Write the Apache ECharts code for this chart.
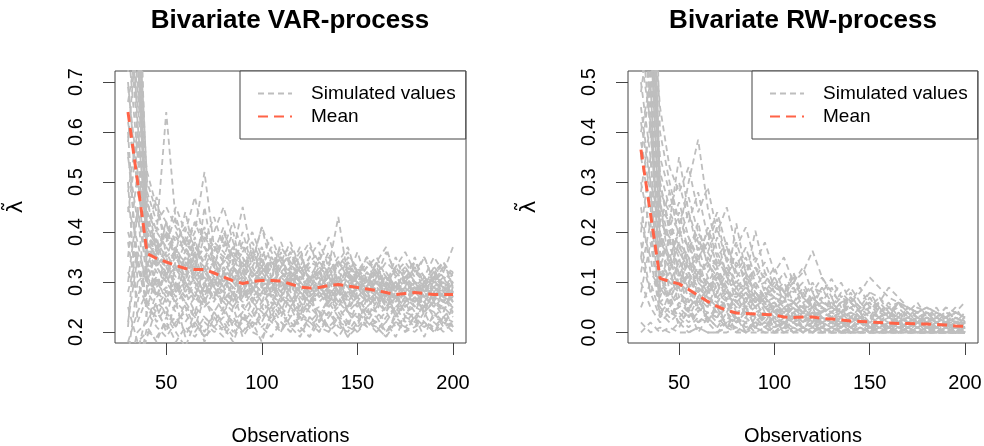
<!DOCTYPE html>
<html>
<head>
<meta charset="utf-8">
<script src="https://cdn.jsdelivr.net/npm/echarts@6/dist/echarts.min.js"></script>
<style>
  html, body { margin: 0; padding: 0; background: #fff; }
  #container { width: 984px; height: 446px; }
</style>
</head>
<body>
<div id="container"></div>
<script>
// observation grid (x) shared by both panels
var obs = [30, 35, 40, 45, 50, 55, 60, 65, 70, 75, 80, 85, 90, 95, 100, 105, 110, 115, 120, 125,
  130, 135, 140, 145, 150, 155, 160, 165, 170, 175, 180, 185, 190, 195, 200];

var xTicks = [50, 100, 150, 200];
var varYTicks = [0.2, 0.3, 0.4, 0.5, 0.6, 0.7];
var rwYTicks = [0.0, 0.1, 0.2, 0.3, 0.4, 0.5];

// mean of lambda tilde, VAR-process
var varMean = [0.640, 0.500, 0.357, 0.347, 0.340, 0.333, 0.327, 0.325, 0.325, 0.318,
  0.310, 0.302, 0.297, 0.301, 0.303, 0.303, 0.302, 0.296, 0.290, 0.288,
  0.289, 0.293, 0.295, 0.292, 0.289, 0.286, 0.283, 0.279, 0.275, 0.277,
  0.279, 0.277, 0.275, 0.275, 0.275];

// mean of lambda tilde, RW-process
var rwMean = [0.365, 0.237, 0.108, 0.102, 0.097, 0.086, 0.074, 0.062, 0.052, 0.044,
  0.039, 0.038, 0.037, 0.036, 0.035, 0.031, 0.030, 0.031, 0.031, 0.028,
  0.027, 0.025, 0.023, 0.022, 0.021, 0.020, 0.019, 0.018, 0.018, 0.017,
  0.017, 0.016, 0.015, 0.013, 0.012];

// simulated paths, VAR-process
var varSims = [
  [0.95,0.62,0.38,0.35,0.33, 0.36,0.34,0.31,0.33,0.35, 0.32,0.30,0.31,0.33,0.30, 0.29,0.31,0.32,0.30,0.28, 0.29,0.31,0.30,0.28,0.27, 0.29,0.30,0.28,0.27,0.26, 0.28,0.29,0.27,0.28,0.27],
  [0.21,0.45,0.31,0.28,0.26, 0.29,0.27,0.30,0.26,0.24, 0.27,0.25,0.28,0.26,0.24, 0.26,0.25,0.23,0.26,0.24, 0.25,0.23,0.26,0.24,0.23, 0.25,0.24,0.22,0.25,0.24, 0.23,0.25,0.24,0.22,0.24],
  [1.10,0.85,0.44,0.40,0.64, 0.42,0.38,0.35,0.40,0.37, 0.34,0.36,0.33,0.35,0.32, 0.34,0.31,0.33,0.35,0.32, 0.30,0.32,0.34,0.31,0.30, 0.32,0.30,0.31,0.29,0.31, 0.30,0.29,0.31,0.30,0.28],
  [0.15,0.30,0.25,0.23,0.27, 0.24,0.22,0.25,0.23,0.21, 0.24,0.22,0.20,0.23,0.25, 0.22,0.24,0.21,0.23,0.22, 0.24,0.21,0.23,0.22,0.20, 0.23,0.22,0.24,0.21,0.23, 0.22,0.21,0.23,0.22,0.21],
  [0.78,0.55,0.36,0.33,0.37, 0.34,0.36,0.40,0.52,0.37, 0.35,0.32,0.34,0.31,0.33, 0.30,0.32,0.34,0.31,0.30, 0.33,0.31,0.29,0.32,0.30, 0.28,0.30,0.32,0.29,0.28, 0.30,0.29,0.27,0.29,0.28],
  [0.45,0.38,0.29,0.31,0.28, 0.30,0.27,0.29,0.31,0.28, 0.26,0.29,0.27,0.30,0.28, 0.27,0.26,0.29,0.27,0.25, 0.28,0.26,0.27,0.29,0.26, 0.25,0.27,0.26,0.24,0.27, 0.26,0.25,0.27,0.26,0.25],
  [0.88,0.74,0.42,0.38,0.35, 0.37,0.33,0.36,0.34,0.40, 0.45,0.38,0.33,0.35,0.32, 0.34,0.32,0.30,0.33,0.31, 0.32,0.30,0.31,0.29,0.31, 0.30,0.28,0.31,0.29,0.30, 0.28,0.30,0.29,0.27,0.29],
  [0.12,0.20,0.22,0.26,0.24, 0.21,0.25,0.23,0.20,0.24, 0.22,0.19,0.23,0.21,0.24, 0.22,0.20,0.23,0.21,0.19, 0.22,0.24,0.21,0.20,0.23, 0.21,0.22,0.20,0.23,0.21, 0.20,0.22,0.21,0.23,0.21],
  [0.70,0.48,0.40,0.36,0.39, 0.35,0.33,0.37,0.34,0.31, 0.34,0.36,0.45,0.35,0.33, 0.31,0.34,0.32,0.30,0.33, 0.31,0.29,0.32,0.30,0.28, 0.31,0.29,0.27,0.30,0.28, 0.29,0.31,0.28,0.27,0.29],
  [0.32,0.27,0.33,0.29,0.31, 0.28,0.30,0.26,0.29,0.27, 0.30,0.28,0.26,0.29,0.27, 0.29,0.27,0.25,0.28,0.26, 0.27,0.29,0.26,0.28,0.25, 0.27,0.26,0.28,0.25,0.27, 0.26,0.28,0.25,0.27,0.26],
  [1.20,0.95,0.48,0.42,0.45, 0.41,0.38,0.42,0.39,0.36, 0.38,0.35,0.37,0.34,0.41, 0.36,0.33,0.35,0.32,0.34, 0.33,0.35,0.32,0.34,0.31, 0.33,0.31,0.34,0.32,0.30, 0.32,0.30,0.33,0.31,0.30],
  [0.25,0.18,0.20,0.19,0.22, 0.18,0.21,0.19,0.22,0.20, 0.21,0.23,0.20,0.22,0.21, 0.23,0.21,0.22,0.20,0.23, 0.21,0.20,0.22,0.21,0.20, 0.22,0.21,0.19,0.22,0.20, 0.21,0.22,0.20,0.21,0.22],
  [0.62,0.50,0.35,0.32,0.30, 0.33,0.31,0.34,0.30,0.32, 0.29,0.31,0.33,0.30,0.28, 0.31,0.29,0.32,0.30,0.28, 0.30,0.33,0.43,0.31,0.30, 0.28,0.30,0.27,0.29,0.31, 0.28,0.27,0.29,0.28,0.30],
  [0.98,0.58,0.37,0.34,0.32, 0.35,0.33,0.30,0.32,0.34, 0.31,0.29,0.32,0.34,0.41, 0.33,0.31,0.29,0.32,0.30, 0.29,0.31,0.28,0.30,0.32, 0.29,0.27,0.30,0.28,0.31, 0.29,0.28,0.30,0.29,0.27],
  [0.18,0.24,0.28,0.30,0.27, 0.29,0.26,0.28,0.25,0.27, 0.24,0.27,0.25,0.23,0.26, 0.28,0.25,0.27,0.24,0.26, 0.24,0.26,0.23,0.25,0.27, 0.24,0.23,0.25,0.27,0.24, 0.25,0.24,0.26,0.23,0.25],
  [0.82,0.66,0.39,0.37,0.34, 0.31,0.35,0.33,0.29,0.32, 0.34,0.31,0.28,0.31,0.33, 0.30,0.28,0.31,0.29,0.27, 0.29,0.31,0.28,0.26,0.29, 0.30,0.28,0.26,0.29,0.27, 0.28,0.26,0.29,0.27,0.28],
  [0.55,0.42,0.46,0.40,0.37, 0.39,0.36,0.34,0.37,0.35, 0.32,0.35,0.33,0.36,0.34, 0.31,0.33,0.36,0.32,0.35, 0.33,0.31,0.34,0.32,0.30, 0.33,0.35,0.31,0.29,0.32, 0.34,0.31,0.30,0.32,0.37],
  [0.40,0.33,0.26,0.24,0.21, 0.23,0.20,0.22,0.19,0.21, 0.23,0.20,0.22,0.24,0.21, 0.19,0.22,0.20,0.23,0.21, 0.23,0.21,0.19,0.22,0.24, 0.21,0.23,0.20,0.22,0.21, 0.23,0.21,0.22,0.20,0.22],
  [1.05,0.80,0.41,0.37,0.40, 0.36,0.39,0.35,0.33,0.37, 0.34,0.37,0.35,0.32,0.30, 0.33,0.35,0.31,0.33,0.30, 0.32,0.34,0.31,0.29,0.32, 0.30,0.32,0.29,0.31,0.33, 0.30,0.28,0.31,0.29,0.30],
  [0.28,0.36,0.30,0.27,0.29, 0.26,0.30,0.27,0.32,0.29, 0.27,0.25,0.29,0.26,0.28, 0.30,0.27,0.25,0.28,0.26, 0.29,0.26,0.28,0.25,0.27, 0.29,0.26,0.28,0.30,0.27, 0.25,0.27,0.29,0.26,0.28],
  [0.72,0.90,0.34,0.30,0.33, 0.30,0.28,0.31,0.33,0.29, 0.31,0.33,0.30,0.28,0.31, 0.28,0.30,0.33,0.29,0.31, 0.28,0.30,0.27,0.31,0.29, 0.31,0.28,0.30,0.26,0.28, 0.30,0.27,0.29,0.31,0.28],
  [0.14,0.16,0.24,0.21,0.19, 0.22,0.24,0.20,0.23,0.21, 0.19,0.22,0.24,0.21,0.23, 0.25,0.22,0.20,0.24,0.22, 0.20,0.23,0.25,0.22,0.24, 0.22,0.20,0.23,0.25,0.22, 0.24,0.22,0.20,0.23,0.22],
  [0.90,0.70,0.52,0.45,0.42, 0.38,0.41,0.37,0.35,0.38, 0.36,0.33,0.36,0.38,0.34, 0.32,0.35,0.37,0.33,0.31, 0.34,0.32,0.35,0.33,0.31, 0.34,0.32,0.30,0.33,0.31, 0.33,0.30,0.32,0.34,0.31],
  [0.60,0.30,0.32,0.35,0.31, 0.33,0.29,0.31,0.28,0.30, 0.33,0.30,0.27,0.30,0.32, 0.29,0.27,0.30,0.28,0.26, 0.29,0.31,0.28,0.27,0.30, 0.27,0.29,0.31,0.28,0.26, 0.28,0.30,0.27,0.29,0.26],
  [1.30,1.00,0.38,0.33,0.36, 0.32,0.34,0.31,0.28,0.31, 0.29,0.32,0.30,0.27,0.29, 0.31,0.28,0.26,0.29,0.27, 0.26,0.28,0.30,0.27,0.29, 0.26,0.28,0.25,0.27,0.29, 0.27,0.25,0.28,0.26,0.27],
  [0.35,0.52,0.28,0.25,0.28, 0.26,0.24,0.27,0.25,0.28, 0.26,0.24,0.27,0.29,0.26, 0.24,0.27,0.25,0.23,0.26, 0.28,0.25,0.27,0.24,0.26, 0.23,0.26,0.24,0.27,0.25, 0.27,0.24,0.26,0.25,0.23],
  [0.84,0.60,0.44,0.36,0.33, 0.36,0.32,0.35,0.37,0.33, 0.30,0.33,0.31,0.29,0.32, 0.35,0.32,0.30,0.28,0.31, 0.29,0.27,0.30,0.32,0.28, 0.30,0.33,0.29,0.27,0.30, 0.28,0.31,0.29,0.27,0.30],
  [0.50,0.22,0.27,0.33,0.30, 0.27,0.31,0.29,0.26,0.30, 0.28,0.26,0.30,0.32,0.29, 0.27,0.30,0.28,0.31,0.29, 0.27,0.29,0.26,0.28,0.31, 0.28,0.26,0.29,0.27,0.25, 0.29,0.27,0.25,0.28,0.26],
  [0.66,0.78,0.33,0.39,0.31, 0.37,0.30,0.36,0.29,0.35, 0.28,0.34,0.27,0.33,0.29, 0.35,0.28,0.32,0.26,0.31, 0.27,0.33,0.28,0.25,0.30, 0.26,0.31,0.27,0.24,0.29, 0.25,0.30,0.26,0.31,0.27],
  [0.10,0.13,0.19,0.25,0.20, 0.26,0.19,0.24,0.18,0.23, 0.20,0.25,0.19,0.22,0.18, 0.24,0.20,0.25,0.21,0.19, 0.24,0.20,0.23,0.19,0.22, 0.25,0.21,0.19,0.24,0.20, 0.23,0.19,0.24,0.21,0.25],
  [0.92,1.05,0.40,0.34,0.42, 0.36,0.44,0.35,0.41,0.33, 0.39,0.34,0.40,0.33,0.37, 0.31,0.38,0.33,0.36,0.30, 0.35,0.29,0.34,0.31,0.36, 0.30,0.34,0.28,0.33,0.30, 0.35,0.29,0.33,0.28,0.32],
  [0.48,0.60,0.37,0.29,0.35, 0.28,0.33,0.39,0.30,0.26, 0.32,0.27,0.35,0.29,0.26, 0.31,0.36,0.28,0.25,0.30, 0.33,0.27,0.31,0.26,0.29, 0.32,0.27,0.24,0.30,0.26, 0.29,0.25,0.31,0.27,0.24],
  [0.30,0.45,0.22,0.28,0.23, 0.30,0.25,0.21,0.27,0.31, 0.24,0.28,0.22,0.26,0.30, 0.23,0.27,0.31,0.24,0.28, 0.22,0.26,0.30,0.24,0.21, 0.27,0.24,0.29,0.23,0.26, 0.30,0.23,0.27,0.24,0.29],
  [1.15,0.88,0.50,0.44,0.39, 0.45,0.40,0.47,0.38,0.43, 0.37,0.42,0.36,0.40,0.35, 0.39,0.34,0.38,0.33,0.37, 0.34,0.39,0.33,0.36,0.32, 0.35,0.31,0.36,0.32,0.34, 0.31,0.35,0.30,0.33,0.32],
  [0.56,0.34,0.25,0.31,0.26, 0.33,0.28,0.24,0.30,0.27, 0.32,0.26,0.30,0.24,0.28, 0.25,0.30,0.27,0.23,0.29, 0.31,0.26,0.29,0.24,0.28, 0.26,0.30,0.25,0.28,0.23, 0.27,0.30,0.26,0.24,0.28],
  [0.75,0.95,0.30,0.36,0.42, 0.33,0.38,0.31,0.45,0.34, 0.30,0.37,0.32,0.28,0.35, 0.30,0.27,0.33,0.37,0.29, 0.32,0.36,0.30,0.27,0.33, 0.29,0.34,0.31,0.28,0.33, 0.30,0.27,0.32,0.29,0.26],
  [0.16,0.12,0.21,0.18,0.23, 0.20,0.17,0.22,0.19,0.24, 0.21,0.18,0.23,0.20,0.19, 0.22,0.25,0.21,0.19,0.23, 0.20,0.24,0.22,0.19,0.21, 0.23,0.20,0.22,0.19,0.23, 0.21,0.24,0.20,0.22,0.20],
  [0.85,0.68,0.47,0.36,0.40, 0.35,0.31,0.38,0.33,0.29, 0.35,0.40,0.32,0.37,0.31, 0.28,0.33,0.36,0.30,0.34, 0.36,0.31,0.28,0.34,0.30, 0.27,0.32,0.29,0.35,0.30, 0.33,0.28,0.31,0.34,0.29],
  [0.38,0.26,0.34,0.27,0.32, 0.25,0.29,0.34,0.26,0.31, 0.27,0.33,0.25,0.28,0.35, 0.27,0.24,0.29,0.33,0.26, 0.30,0.25,0.28,0.32,0.26, 0.29,0.32,0.26,0.30,0.27, 0.24,0.28,0.31,0.26,0.30],
  [0.69,0.52,0.41,0.47,0.35, 0.40,0.36,0.42,0.37,0.33, 0.40,0.35,0.31,0.36,0.33, 0.37,0.34,0.30,0.35,0.38, 0.32,0.28,0.34,0.37,0.31, 0.35,0.32,0.29,0.33,0.36, 0.32,0.35,0.30,0.33,0.31],
  [0.22,0.35,0.26,0.22,0.25, 0.21,0.26,0.23,0.27,0.22, 0.25,0.21,0.24,0.27,0.22, 0.26,0.23,0.27,0.22,0.25, 0.23,0.27,0.24,0.21,0.26, 0.22,0.25,0.28,0.23,0.26, 0.22,0.26,0.23,0.25,0.21],
  [1.25,0.76,0.36,0.41,0.38, 0.43,0.37,0.33,0.39,0.36, 0.41,0.34,0.38,0.31,0.36, 0.33,0.37,0.34,0.30,0.35, 0.38,0.33,0.30,0.35,0.33, 0.30,0.34,0.37,0.31,0.29, 0.34,0.31,0.35,0.32,0.30],
  [0.44,0.58,0.31,0.27,0.33, 0.29,0.35,0.30,0.27,0.32, 0.29,0.26,0.31,0.28,0.33, 0.27,0.31,0.26,0.30,0.27, 0.32,0.28,0.25,0.29,0.32, 0.28,0.25,0.30,0.27,0.31, 0.26,0.29,0.32,0.27,0.25],
  [0.58,0.82,0.43,0.33,0.30, 0.34,0.30,0.27,0.33,0.29, 0.26,0.30,0.34,0.27,0.25, 0.29,0.26,0.32,0.28,0.25, 0.30,0.26,0.29,0.33,0.27, 0.24,0.28,0.31,0.26,0.29, 0.27,0.24,0.28,0.30,0.26]
];

// simulated paths, RW-process
var rwSims = [
  [0.80,0.55,0.12,0.10,0.14, 0.11,0.08,0.10,0.07,0.05, 0.06,0.04,0.05,0.03,0.04, 0.02,0.03,0.04,0.02,0.03, 0.02,0.01,0.03,0.02,0.01, 0.02,0.03,0.01,0.02,0.01, 0.02,0.01,0.02,0.01,0.01],
  [0.05,0.10,0.04,0.06,0.03, 0.05,0.02,0.04,0.03,0.01, 0.02,0.03,0.01,0.02,0.00, 0.01,0.02,0.00,0.01,0.02, 0.01,0.00,0.01,0.02,0.01, 0.00,0.01,0.00,0.01,0.00, 0.01,0.00,0.01,0.00,0.00],
  [0.65,0.72,0.25,0.22,0.35, 0.24,0.18,0.15,0.12,0.10, 0.08,0.10,0.07,0.05,0.06, 0.04,0.05,0.03,0.04,0.03, 0.02,0.03,0.04,0.02,0.03, 0.02,0.01,0.02,0.03,0.02, 0.01,0.02,0.01,0.02,0.01],
  [0.20,0.35,0.08,0.12,0.10, 0.14,0.11,0.09,0.12,0.08, 0.06,0.08,0.05,0.07,0.04, 0.05,0.03,0.04,0.06,0.03, 0.04,0.02,0.03,0.05,0.03, 0.02,0.04,0.02,0.03,0.02, 0.03,0.02,0.01,0.02,0.02],
  [0.95,0.60,0.18,0.15,0.20, 0.30,0.385,0.25,0.16,0.12, 0.09,0.11,0.08,0.06,0.07, 0.05,0.06,0.04,0.05,0.04, 0.03,0.04,0.03,0.02,0.03, 0.02,0.03,0.02,0.01,0.02, 0.02,0.01,0.02,0.01,0.01],
  [0.00,0.02,0.00,0.01,0.00, 0.00,0.01,0.00,0.00,0.01, 0.00,0.00,0.01,0.00,0.00, 0.00,0.00,0.00,0.01,0.00, 0.00,0.00,0.00,0.00,0.00, 0.00,0.00,0.00,0.00,0.00, 0.00,0.00,0.00,0.00,0.00],
  [0.55,0.42,0.10,0.08,0.11, 0.09,0.12,0.10,0.07,0.09, 0.06,0.05,0.07,0.05,0.04, 0.03,0.05,0.04,0.03,0.02, 0.03,0.02,0.03,0.02,0.01, 0.02,0.01,0.02,0.01,0.02, 0.01,0.01,0.00,0.01,0.01],
  [0.40,0.50,0.15,0.18,0.16, 0.13,0.15,0.18,0.227,0.14, 0.10,0.09,0.07,0.06,0.05, 0.06,0.04,0.05,0.03,0.04, 0.03,0.04,0.02,0.03,0.02, 0.03,0.02,0.01,0.02,0.01, 0.02,0.01,0.02,0.01,0.01],
  [1.00,0.85,0.30,0.20,0.16, 0.13,0.10,0.08,0.11,0.09, 0.218,0.12,0.08,0.06,0.05, 0.04,0.05,0.03,0.04,0.03, 0.02,0.03,0.02,0.03,0.02, 0.01,0.02,0.01,0.01,0.02, 0.01,0.01,0.02,0.01,0.01],
  [0.10,0.05,0.02,0.04,0.03, 0.01,0.03,0.02,0.00,0.02, 0.01,0.00,0.02,0.01,0.00, 0.01,0.00,0.01,0.00,0.00, 0.01,0.00,0.00,0.01,0.00, 0.00,0.00,0.01,0.00,0.00, 0.00,0.00,0.00,0.00,0.00],
  [0.70,0.45,0.16,0.13,0.18, 0.15,0.12,0.14,0.10,0.12, 0.09,0.11,0.203,0.12,0.08, 0.07,0.06,0.08,0.05,0.06, 0.05,0.04,0.05,0.03,0.04, 0.03,0.04,0.03,0.02,0.03, 0.02,0.03,0.02,0.02,0.01],
  [0.30,0.20,0.06,0.04,0.05, 0.03,0.05,0.04,0.02,0.03, 0.02,0.03,0.01,0.02,0.03, 0.01,0.02,0.01,0.00,0.01, 0.02,0.01,0.00,0.01,0.00, 0.01,0.00,0.01,0.00,0.01, 0.00,0.01,0.00,0.00,0.00],
  [0.58,0.66,0.20,0.15,0.12, 0.10,0.13,0.09,0.11,0.08, 0.07,0.09,0.06,0.08,0.07, 0.06,0.117,0.07,0.05,0.04, 0.05,0.04,0.05,0.03,0.04, 0.03,0.04,0.03,0.02,0.03, 0.02,0.03,0.02,0.01,0.02],
  [0.25,0.12,0.09,0.07,0.10, 0.08,0.06,0.09,0.07,0.05, 0.06,0.08,0.05,0.07,0.09, 0.08,0.10,0.12,0.163,0.11, 0.08,0.06,0.07,0.05,0.06, 0.04,0.05,0.03,0.04,0.03, 0.02,0.03,0.02,0.03,0.02],
  [0.88,0.52,0.14,0.11,0.09, 0.12,0.09,0.07,0.06,0.08, 0.05,0.06,0.04,0.05,0.03, 0.04,0.02,0.03,0.04,0.02, 0.03,0.02,0.01,0.02,0.01, 0.02,0.01,0.00,0.01,0.02, 0.01,0.00,0.01,0.00,0.01],
  [0.45,0.30,0.22,0.19,0.15, 0.17,0.20,0.16,0.13,0.15, 0.12,0.10,0.13,0.11,0.09, 0.08,0.10,0.07,0.09,0.08, 0.107,0.07,0.09,0.06,0.08, 0.07,0.05,0.06,0.05,0.04, 0.05,0.04,0.03,0.04,0.03],
  [0.15,0.08,0.03,0.05,0.02, 0.04,0.02,0.03,0.01,0.02, 0.00,0.02,0.01,0.00,0.01, 0.02,0.00,0.01,0.00,0.01, 0.00,0.01,0.00,0.00,0.01, 0.00,0.00,0.00,0.01,0.00, 0.00,0.00,0.00,0.00,0.00],
  [0.75,0.95,0.28,0.24,0.20, 0.17,0.14,0.12,0.15,0.11, 0.09,0.07,0.08,0.06,0.07, 0.05,0.06,0.04,0.05,0.06, 0.05,0.07,0.06,0.08,0.11, 0.09,0.07,0.06,0.05,0.04, 0.05,0.04,0.03,0.04,0.03],
  [0.35,0.25,0.05,0.03,0.06, 0.04,0.02,0.04,0.03,0.05, 0.03,0.02,0.04,0.02,0.01, 0.03,0.02,0.01,0.02,0.01, 0.00,0.02,0.01,0.00,0.01, 0.02,0.01,0.00,0.01,0.00, 0.01,0.00,0.01,0.00,0.00],
  [0.62,0.40,0.18,0.22,0.17, 0.14,0.12,0.10,0.13,0.09, 0.10,0.08,0.06,0.09,0.07, 0.06,0.05,0.07,0.05,0.04, 0.05,0.04,0.06,0.04,0.05, 0.06,0.09,0.07,0.05,0.04, 0.05,0.03,0.04,0.03,0.02],
  [0.08,0.18,0.06,0.08,0.05, 0.07,0.05,0.03,0.05,0.04, 0.02,0.04,0.03,0.01,0.03, 0.02,0.01,0.02,0.03,0.01, 0.02,0.00,0.01,0.02,0.01, 0.01,0.02,0.00,0.01,0.02, 0.01,0.00,0.01,0.01,0.00],
  [1.10,0.70,0.13,0.10,0.08, 0.06,0.09,0.07,0.05,0.06, 0.04,0.05,0.03,0.04,0.05, 0.03,0.04,0.02,0.03,0.02, 0.03,0.01,0.02,0.03,0.02, 0.01,0.02,0.03,0.02,0.03, 0.04,0.03,0.05,0.04,0.061],
  [0.50,0.35,0.11,0.14,0.12, 0.09,0.11,0.08,0.10,0.07, 0.08,0.06,0.08,0.05,0.06, 0.04,0.06,0.05,0.03,0.05, 0.04,0.03,0.04,0.02,0.03, 0.04,0.03,0.02,0.03,0.02, 0.03,0.02,0.02,0.01,0.02],
  [0.02,0.00,0.01,0.00,0.02, 0.00,0.01,0.00,0.00,0.00, 0.01,0.00,0.00,0.00,0.00, 0.00,0.01,0.00,0.00,0.00, 0.00,0.00,0.00,0.00,0.00, 0.00,0.00,0.00,0.00,0.00, 0.00,0.00,0.00,0.00,0.00],
  [0.68,0.78,0.24,0.17,0.13, 0.16,0.19,0.14,0.11,0.13, 0.10,0.12,0.09,0.07,0.10, 0.08,0.06,0.05,0.07,0.05, 0.04,0.06,0.04,0.03,0.05, 0.03,0.04,0.02,0.03,0.04, 0.02,0.03,0.02,0.02,0.01],
  [0.22,0.15,0.04,0.02,0.04, 0.02,0.04,0.06,0.04,0.02, 0.03,0.01,0.02,0.03,0.01, 0.02,0.03,0.01,0.02,0.00, 0.01,0.02,0.01,0.00,0.01, 0.00,0.01,0.02,0.01,0.00, 0.01,0.00,0.00,0.01,0.00],
  [0.92,0.62,0.35,0.28,0.22, 0.19,0.15,0.18,0.14,0.12, 0.14,0.11,0.09,0.10,0.08, 0.07,0.09,0.06,0.07,0.05, 0.06,0.04,0.05,0.06,0.04, 0.03,0.04,0.05,0.03,0.02, 0.03,0.02,0.03,0.02,0.02],
  [0.38,0.28,0.09,0.06,0.07, 0.05,0.07,0.05,0.08,0.06, 0.04,0.05,0.03,0.04,0.02, 0.03,0.04,0.02,0.01,0.03, 0.02,0.03,0.01,0.02,0.01, 0.02,0.01,0.00,0.01,0.02, 0.01,0.02,0.01,0.00,0.01],
  [0.48,0.62,0.20,0.08,0.15, 0.06,0.12,0.05,0.10,0.04, 0.08,0.03,0.07,0.02,0.05, 0.01,0.04,0.02,0.05,0.01, 0.03,0.00,0.02,0.04,0.01, 0.03,0.00,0.02,0.01,0.03, 0.00,0.02,0.01,0.03,0.00],
  [0.90,1.00,0.40,0.30,0.22, 0.27,0.20,0.16,0.21,0.14, 0.18,0.12,0.15,0.10,0.13, 0.08,0.11,0.07,0.10,0.06, 0.09,0.05,0.08,0.04,0.07, 0.05,0.03,0.06,0.04,0.02, 0.04,0.03,0.05,0.02,0.03],
  [0.15,0.28,0.10,0.16,0.07, 0.12,0.05,0.09,0.03,0.07, 0.02,0.05,0.01,0.04,0.02, 0.00,0.03,0.01,0.00,0.02, 0.00,0.01,0.00,0.02,0.00, 0.01,0.00,0.00,0.01,0.00, 0.00,0.01,0.00,0.00,0.01],
  [0.72,0.48,0.26,0.18,0.24, 0.16,0.22,0.13,0.19,0.11, 0.16,0.09,0.13,0.08,0.11, 0.06,0.09,0.05,0.08,0.04, 0.07,0.03,0.06,0.04,0.02, 0.05,0.03,0.04,0.02,0.03, 0.01,0.03,0.02,0.01,0.02],
  [0.28,0.42,0.14,0.06,0.12, 0.04,0.09,0.02,0.06,0.01, 0.04,0.00,0.03,0.01,0.00, 0.02,0.00,0.01,0.00,0.01, 0.00,0.00,0.01,0.00,0.00, 0.00,0.01,0.00,0.00,0.00, 0.00,0.00,0.01,0.00,0.00],
  [1.05,0.58,0.32,0.25,0.30, 0.22,0.28,0.19,0.24,0.17, 0.13,0.17,0.11,0.14,0.09, 0.12,0.08,0.10,0.06,0.09, 0.05,0.08,0.06,0.04,0.07, 0.04,0.06,0.03,0.05,0.04, 0.02,0.04,0.03,0.02,0.04],
  [0.60,0.80,0.17,0.22,0.11, 0.18,0.10,0.15,0.08,0.12, 0.06,0.10,0.05,0.08,0.04, 0.07,0.03,0.06,0.02,0.05, 0.03,0.05,0.02,0.04,0.01, 0.03,0.01,0.04,0.02,0.01, 0.03,0.01,0.02,0.00,0.02],
  [0.12,0.22,0.03,0.08,0.01, 0.05,0.00,0.03,0.01,0.04, 0.00,0.02,0.00,0.01,0.03, 0.00,0.01,0.00,0.02,0.00, 0.01,0.00,0.00,0.01,0.00, 0.02,0.00,0.01,0.00,0.00, 0.01,0.00,0.00,0.01,0.00],
  [0.85,0.70,0.45,0.33,0.28, 0.33,0.24,0.29,0.20,0.25, 0.17,0.21,0.14,0.18,0.12, 0.15,0.10,0.13,0.08,0.11, 0.07,0.10,0.06,0.09,0.05, 0.07,0.04,0.06,0.03,0.05, 0.04,0.02,0.04,0.03,0.02],
  [0.42,0.30,0.13,0.19,0.09, 0.15,0.07,0.11,0.06,0.09, 0.04,0.07,0.03,0.06,0.02, 0.05,0.02,0.04,0.01,0.03, 0.02,0.04,0.01,0.03,0.01, 0.02,0.00,0.02,0.01,0.02, 0.00,0.01,0.02,0.00,0.01],
  [0.98,0.90,0.22,0.28,0.19, 0.24,0.16,0.20,0.13,0.17, 0.11,0.14,0.09,0.12,0.08, 0.10,0.06,0.09,0.05,0.07, 0.04,0.06,0.03,0.05,0.08, 0.05,0.03,0.06,0.04,0.02, 0.04,0.02,0.03,0.01,0.03],
  [0.18,0.08,0.12,0.05,0.09, 0.03,0.07,0.02,0.05,0.01, 0.03,0.00,0.02,0.04,0.01, 0.02,0.00,0.01,0.03,0.00, 0.01,0.02,0.00,0.01,0.00, 0.01,0.00,0.02,0.00,0.01, 0.00,0.01,0.00,0.01,0.00],
  [0.66,0.55,0.30,0.21,0.26, 0.19,0.14,0.21,0.15,0.18, 0.12,0.15,0.10,0.07,0.11, 0.08,0.12,0.07,0.05,0.09, 0.06,0.04,0.07,0.05,0.03, 0.06,0.04,0.02,0.05,0.03, 0.04,0.02,0.03,0.05,0.02],
  [0.35,0.50,0.07,0.13,0.05, 0.10,0.04,0.08,0.03,0.06, 0.02,0.05,0.01,0.03,0.00, 0.02,0.04,0.01,0.00,0.02, 0.01,0.03,0.00,0.01,0.02, 0.00,0.01,0.03,0.00,0.01, 0.02,0.00,0.01,0.00,0.01],
  [0.78,0.40,0.19,0.14,0.21, 0.13,0.17,0.11,0.08,0.13, 0.09,0.06,0.10,0.07,0.05, 0.08,0.06,0.04,0.07,0.05, 0.03,0.05,0.07,0.04,0.06, 0.03,0.05,0.02,0.04,0.06, 0.03,0.05,0.02,0.04,0.03],
  [0.55,0.85,0.27,0.12,0.18, 0.10,0.15,0.08,0.12,0.06, 0.09,0.05,0.08,0.04,0.06, 0.03,0.05,0.02,0.04,0.01, 0.03,0.01,0.03,0.02,0.00, 0.02,0.01,0.03,0.00,0.02, 0.01,0.00,0.02,0.01,0.00]
];

var FONT = 'Liberation Sans, Arial, sans-serif';
var SIM_COLOR = '#BEBEBE';
var MEAN_COLOR = '#FF6347';
var BOX_COLOR = '#444';

function pairs(ys) {
  return obs.map(function (x, i) { return [x, ys[i]]; });
}

function xAxisFor(idx) {
  return {
    type: 'value', gridIndex: idx, min: 23.2, max: 206.8,
    name: 'Observations', nameLocation: 'middle', nameGap: 83,
    nameTextStyle: { fontFamily: FONT, fontSize: 20, color: '#000' },
    axisLine: { show: false, onZero: false },
    axisTick: { show: true, length: 12, customValues: xTicks, lineStyle: { color: BOX_COLOR } },
    axisLabel: { customValues: xTicks, margin: 30, fontFamily: FONT, fontSize: 20, color: '#000' },
    splitLine: { show: false }
  };
}

function yAxisFor(idx, min, max, ticks) {
  return {
    type: 'value', gridIndex: idx, min: min, max: max,
    name: 'λ\u0303', nameLocation: 'middle', nameRotate: 90, nameGap: 88,
    nameTextStyle: { fontFamily: 'DejaVu Sans', fontSize: 22, color: '#000' },
    axisLine: { show: false, onZero: false },
    axisTick: { show: true, length: 12, customValues: ticks, lineStyle: { color: BOX_COLOR } },
    axisLabel: {
      customValues: ticks, rotate: 90, margin: 29, fontFamily: FONT, fontSize: 20, color: '#000',
      formatter: function (v) { return v.toFixed(1); }
    },
    splitLine: { show: false }
  };
}

function legendFor(left) {
  return {
    left: left, top: 71, orient: 'vertical',
    data: ['Simulated values', 'Mean'],
    itemWidth: 34, itemHeight: 14, itemGap: 4,
    padding: [13, 10, 13, 17],
    itemStyle: { opacity: 0 },
    backgroundColor: '#fff', borderColor: BOX_COLOR, borderWidth: 1,
    textStyle: { fontFamily: FONT, fontSize: 19, color: '#000', padding: [0, 0, 0, 14] }
  };
}

function gridAt(left, width) {
  // fixed plot box; labels may run past the canvas edge like in the original
  return {
    left: left, top: 71, width: width, height: 272,
    outerBoundsMode: 'none', containLabel: false,
    show: true, borderColor: BOX_COLOR, borderWidth: 1, backgroundColor: 'transparent'
  };
}

var series = [];
function addPanel(idx, sims, mean) {
  sims.forEach(function (s) {
    series.push({
      type: 'line', name: 'Simulated values', xAxisIndex: idx, yAxisIndex: idx,
      data: pairs(s), symbol: 'none', silent: true, z: 2,
      lineStyle: { color: SIM_COLOR, width: 1.8, type: [6, 4] },
      itemStyle: { color: SIM_COLOR }
    });
  });
  series.push({
    type: 'line', name: 'Mean', xAxisIndex: idx, yAxisIndex: idx,
    data: pairs(mean), symbol: 'none', silent: true, z: 3,
    lineStyle: { color: MEAN_COLOR, width: 3, type: [10, 6] },
    itemStyle: { color: MEAN_COLOR }
  });
}
addPanel(0, varSims, varMean);
addPanel(1, rwSims, rwMean);

var dom = document.getElementById('container');
var myChart = echarts.init(dom, null, { renderer: 'canvas' });
var option = {
  animation: false,
  backgroundColor: '#fff',
  title: [
    { text: 'Bivariate VAR-process', left: 290, top: 8, textAlign: 'center', padding: 0,
      textStyle: { fontFamily: FONT, fontSize: 26, fontWeight: 'bold', color: '#000' } },
    { text: 'Bivariate RW-process', left: 803, top: 8, textAlign: 'center', padding: 0,
      textStyle: { fontFamily: FONT, fontSize: 26, fontWeight: 'bold', color: '#000' } }
  ],
  grid: [gridAt(115, 351), gridAt(628, 350)],
  xAxis: [xAxisFor(0), xAxisFor(1)],
  yAxis: [yAxisFor(0, 0.178, 0.722, varYTicks), yAxisFor(1, -0.021, 0.522, rwYTicks)],
  legend: [legendFor(240), legendFor(752)],
  series: series
};
myChart.setOption(option);
</script>
</body>
</html>
